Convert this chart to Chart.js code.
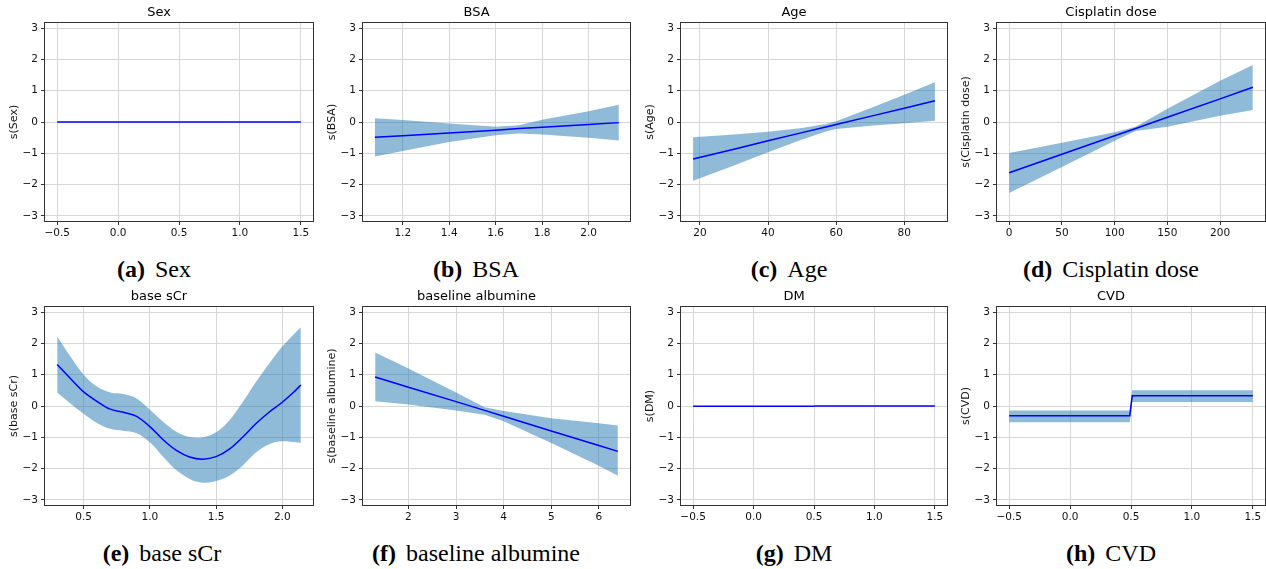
<!DOCTYPE html>
<html>
<head>
<meta charset="utf-8">
<script src="https://cdn.jsdelivr.net/npm/chart.js@4.4.1/dist/chart.umd.min.js"></script>
<style>
  body { margin: 0; background: #fff; width: 1266px; height: 569px; position: relative; overflow: hidden; }
  .cell { position: absolute; }
  .cap { position: absolute; width: 320px; text-align: center; white-space: nowrap;
         font-family: "Liberation Serif", serif; font-size: 24px; line-height: 24px; color: #000; }
  .cap b { margin-right: 10px; }
</style>
</head>
<body>
<script>
// --- data ---
const binTicks = [-0.5, 0, 0.5, 1, 1.5];
const binTickLabels = ['\u22120.5', '0.0', '0.5', '1.0', '1.5'];
const yTicks = [-3, -2, -1, 0, 1, 2, 3];
const yTickLabels = ['\u22123', '\u22122', '\u22121', '0', '1', '2', '3'];

const sexX = [-0.5, 0.5, 1.5];
const sexFit = [0, 0, 0];

const bsaX = [1.08, 1.2, 1.4, 1.6, 1.7, 1.8, 2.0, 2.13];
const bsaFit = [-0.49, -0.44, -0.35, -0.26, -0.21, -0.17, -0.08, -0.02];
const bsaUpper = [0.12, 0.06, -0.05, -0.15, -0.10, 0.07, 0.34, 0.55];
const bsaLower = [-1.10, -0.93, -0.64, -0.42, -0.37, -0.40, -0.50, -0.59];
const bsaTicks = [1.2, 1.4, 1.6, 1.8, 2.0];
const bsaTickLabels = ['1.2', '1.4', '1.6', '1.8', '2.0'];

const ageX = [18, 30, 40, 50, 57, 60, 70, 80, 89];
const ageFit = [-1.18, -0.87, -0.60, -0.34, -0.16, -0.08, 0.18, 0.44, 0.68];
const ageUpper = [-0.49, -0.40, -0.31, -0.19, -0.06, 0.02, 0.44, 0.87, 1.27];
const ageLower = [-1.88, -1.39, -0.97, -0.56, -0.30, -0.22, -0.12, -0.04, 0.04];
const ageTicks = [20, 40, 60, 80];
const ageTickLabels = ['20', '40', '60', '80'];

const cisX = [0, 50, 100, 120, 150, 200, 231];
const cisFit = [-1.62, -1.03, -0.44, -0.21, 0.15, 0.74, 1.11];
const cisUpper = [-0.99, -0.66, -0.33, -0.15, 0.42, 1.32, 1.82];
const cisLower = [-2.27, -1.44, -0.60, -0.29, -0.15, 0.20, 0.38];
const cisTicks = [0, 50, 100, 150, 200];
const cisTickLabels = ['0', '50', '100', '150', '200'];

const scrX = [0.3, 0.4, 0.5, 0.6, 0.7, 0.8, 0.9, 1.0, 1.1, 1.2, 1.3, 1.4, 1.5, 1.6, 1.7, 1.8, 1.9, 2.0, 2.1, 2.14];
const scrFit = [1.33, 0.88, 0.45, 0.15, -0.10, -0.20, -0.33, -0.66, -1.08, -1.42, -1.63, -1.70, -1.62, -1.38, -1.00, -0.57, -0.20, 0.12, 0.50, 0.67];
const scrUpper = [2.22, 1.58, 1.00, 0.62, 0.43, 0.38, 0.24, -0.12, -0.50, -0.82, -0.99, -1.00, -0.84, -0.46, 0.12, 0.76, 1.35, 1.90, 2.35, 2.52];
const scrLower = [0.43, 0.08, -0.25, -0.54, -0.73, -0.79, -0.87, -1.16, -1.62, -2.05, -2.33, -2.45, -2.40, -2.23, -1.91, -1.49, -1.22, -1.13, -1.16, -1.18];
const scrTicks = [0.5, 1.0, 1.5, 2.0];
const scrTickLabels = ['0.5', '1.0', '1.5', '2.0'];

const albX = [1.3, 2, 3, 3.6, 4, 5, 6, 6.4];
const albFit = [0.93, 0.60, 0.14, -0.14, -0.33, -0.80, -1.26, -1.45];
const albUpper = [1.71, 1.20, 0.43, -0.04, -0.16, -0.39, -0.55, -0.62];
const albLower = [0.15, 0.05, -0.14, -0.28, -0.49, -1.18, -1.91, -2.23];
const albTicks = [2, 3, 4, 5, 6];
const albTickLabels = ['2', '3', '4', '5', '6'];

const dmX = [-0.5, 0.49, 0.51, 1.5];
const dmFit = [-0.01, -0.01, 0, 0];

const cvdX = [-0.5, 0.49, 0.51, 1.5];
const cvdFit = [-0.31, -0.31, 0.33, 0.33];
const cvdUpper = [-0.14, -0.14, 0.50, 0.50];
const cvdLower = [-0.52, -0.52, 0.13, 0.13];

// --- panel setup ---
const cols = [{ L: 45, R: 313 }, { L: 363, R: 630 }, { L: 681, R: 947 }, { L: 997, R: 1265 }];
const rowTop = [0, 284];
const capTop = [257, 541];

const panels = [
  { title: 'Sex', ylab: 's(Sex)', cap: ['(a)', 'Sex'], capX: 154, row: 0, col: 0, x: sexX, fit: sexFit, min: -0.6, max: 1.6, ticks: binTicks, labels: binTickLabels },
  { title: 'BSA', ylab: 's(BSA)', cap: ['(b)', 'BSA'], capX: 476, row: 0, col: 1, x: bsaX, fit: bsaFit, up: bsaUpper, lo: bsaLower, min: 1.029, max: 2.178, ticks: bsaTicks, labels: bsaTickLabels },
  { title: 'Age', ylab: 's(Age)', cap: ['(c)', 'Age'], capX: 789, row: 0, col: 2, x: ageX, fit: ageFit, up: ageUpper, lo: ageLower, min: 14.45, max: 92.55, ticks: ageTicks, labels: ageTickLabels },
  { title: 'Cisplatin dose', ylab: 's(Cisplatin dose)', cap: ['(d)', 'Cisplatin dose'], capX: 1111, row: 0, col: 3, x: cisX, fit: cisFit, up: cisUpper, lo: cisLower, min: -11.55, max: 242.55, ticks: cisTicks, labels: cisTickLabels },
  { title: 'base sCr', ylab: 's(base sCr)', cap: ['(e)', 'base sCr'], capX: 162, row: 1, col: 0, x: scrX, fit: scrFit, up: scrUpper, lo: scrLower, min: 0.208, max: 2.232, ticks: scrTicks, labels: scrTickLabels, smooth: true },
  { title: 'baseline albumine', ylab: 's(baseline albumine)', cap: ['(f)', 'baseline albumine'], capX: 476, row: 1, col: 1, x: albX, fit: albFit, up: albUpper, lo: albLower, min: 1.045, max: 6.655, ticks: albTicks, labels: albTickLabels },
  { title: 'DM', ylab: 's(DM)', cap: ['(g)', 'DM'], capX: 794, row: 1, col: 2, x: dmX, fit: dmFit, min: -0.6, max: 1.6, ticks: binTicks, labels: binTickLabels },
  { title: 'CVD', ylab: 's(CVD)', cap: ['(h)', 'CVD'], capX: 1111, row: 1, col: 3, x: cvdX, fit: cvdFit, up: cvdUpper, lo: cvdLower, min: -0.6, max: 1.6, ticks: binTicks, labels: binTickLabels }
];

Chart.defaults.font.family = 'DejaVu Sans';
Chart.defaults.color = '#111';

// matplotlib style box round the plot area
const framePlugin = {
  id: 'frame',
  afterDraw(chart) {
    const a = chart.chartArea, ctx = chart.ctx;
    ctx.save();
    ctx.strokeStyle = '#333';
    ctx.lineWidth = 1;
    ctx.strokeRect(Math.round(a.left) - 0.5, Math.round(a.top) - 0.5, Math.round(a.right - a.left) + 1, Math.round(a.bottom - a.top) + 1);
    ctx.restore();
  }
};

const pts = (xs, ys) => xs.map((x, i) => ({ x: x, y: ys[i] }));

panels.forEach(p => {
  const c = cols[p.col];
  const padR = p.col < 3 ? 8 : 1;
  const left = c.L - 40;
  const w = c.R + padR - left;
  const h = 251;

  const cell = document.createElement('div');
  cell.className = 'cell';
  cell.style.left = left + 'px';
  cell.style.top = rowTop[p.row] + 'px';
  const cv = document.createElement('canvas');
  cv.width = w; cv.height = h;
  cv.style.width = w + 'px'; cv.style.height = h + 'px';
  cell.appendChild(cv);
  document.body.appendChild(cell);

  const cap = document.createElement('div');
  cap.className = 'cap';
  cap.style.left = (p.capX - 160) + 'px';
  cap.style.top = capTop[p.row] + 'px';
  cap.innerHTML = '<b>' + p.cap[0] + '</b>' + p.cap[1];
  document.body.appendChild(cap);

  const tension = p.smooth ? 0.35 : 0;
  const datasets = [{
    data: pts(p.x, p.fit), borderColor: '#0000ff', borderWidth: 1.5,
    pointRadius: 0, fill: false, tension: tension
  }];
  if (p.up) {
    datasets.push({
      data: pts(p.x, p.up), borderWidth: 0, pointRadius: 0, tension: tension,
      backgroundColor: 'rgba(31,119,180,0.5)', fill: '+1'
    });
    datasets.push({
      data: pts(p.x, p.lo), borderWidth: 0, pointRadius: 0, tension: tension, fill: false
    });
  }

  new Chart(cv, {
    type: 'line',
    data: { datasets: datasets },
    options: {
      responsive: false,
      animation: false,
      events: [],
      layout: { padding: { left: 0, right: padR, top: 0, bottom: 0 } },
      plugins: {
        legend: { display: false },
        tooltip: { enabled: false },
        title: {
          display: true, text: p.title, color: '#000',
          font: { size: 13, weight: 'normal' },
          padding: { top: 5.2, bottom: 2.2 }
        }
      },
      scales: {
        x: {
          type: 'linear', min: p.min, max: p.max,
          afterBuildTicks: s => { s.ticks = p.ticks.map(v => ({ value: v })); },
          afterFit: s => { s.height = 30; s.paddingLeft = 0; s.paddingRight = 0; },
          ticks: { callback: (v, i) => p.labels[i], font: { size: 10.5 }, color: '#111', padding: 2, maxRotation: 0, autoSkip: false },
          grid: { color: '#d6d6d6', lineWidth: 1, tickColor: '#333', tickLength: 4 },
          border: { display: false }
        },
        y: {
          type: 'linear', min: -3.165, max: 3.165,
          afterBuildTicks: s => { s.ticks = yTicks.map(v => ({ value: v })); },
          afterFit: s => { s.width = 40; s.paddingTop = 0; s.paddingBottom = 0; },
          ticks: { callback: (v, i) => yTickLabels[i], font: { size: 10.5 }, color: '#111', padding: 3, autoSkip: false },
          grid: { color: '#d6d6d6', lineWidth: 1, tickColor: '#333', tickLength: 4 },
          border: { display: false },
          title: { display: true, text: p.ylab, color: '#111', font: { size: 11 }, padding: { top: 2.4, bottom: 0 } }
        }
      }
    },
    plugins: [framePlugin]
  });
});
</script>
</body>
</html>
